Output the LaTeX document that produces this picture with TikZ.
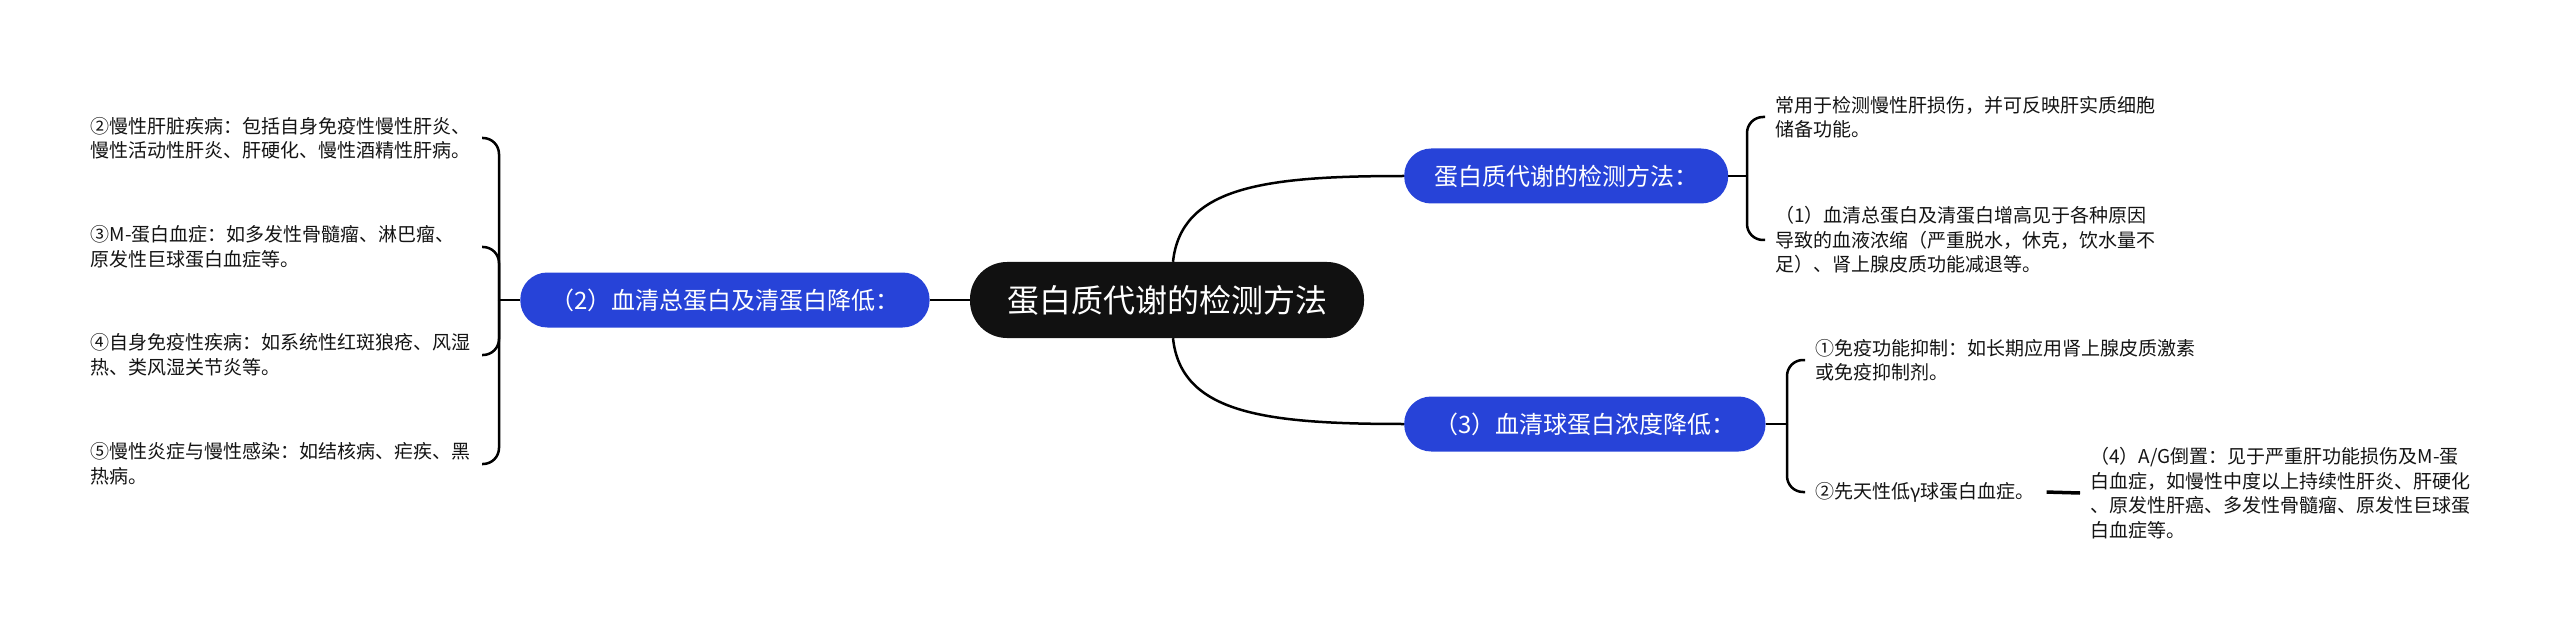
\documentclass[tikz,border=0pt]{standalone}
\usepackage{fontspec}
\setmainfont{Noto Sans CJK SC}
\usepackage{tikz}
\usetikzlibrary{positioning}
\definecolor{topicblack}{HTML}{111111}
\definecolor{topicblue}{HTML}{2743D8}

\begin{document}
\begin{tikzpicture}[x=1pt,y=1pt,every node/.style={inner ysep=0pt},
	root/.style={fill=topicblack,text=white,rounded corners=37pt,minimum height=76pt,inner xsep=37pt,font=\fontsize{32}{38}\selectfont},
	branch/.style={fill=topicblue,text=white,rounded corners=27pt,minimum height=55pt,inner xsep=30pt,font=\fontsize{24}{28}\selectfont},
	leaf/.style={align=left,inner xsep=10pt,text=black!92,font=\fontsize{19}{24.5}\selectfont},
	link/.style={line width=2.5pt}]

					\useasboundingbox (0,0) rectangle (2560,-631);

					\node[root] (R0) at (1167,-300) {蛋白质代谢的检测方法};
					\node[branch, left=40pt of R0] (B2) {（2）血清总蛋白及清蛋白降低：};
					\node[branch, anchor=west] (B1) at (1404,-176) {蛋白质代谢的检测方法：};
					\node[branch, anchor=west] (B3) at (1404,-424) {（3）血清球蛋白浓度降低：};

					\node[leaf, anchor=west] (D1) at (1765,-117) {
						常用于检测慢性肝损伤，并可反映肝实质细胞\\
						储备功能。
					};
					\node[leaf, anchor=west] (D2) at (1765,-240) {
						（1）血清总蛋白及清蛋白增高见于各种原因\\
						导致的血液浓缩（严重脱水，休克，饮水量不\\
						足）、肾上腺皮质功能减退等。
					};
					\node[leaf, anchor=west] (D3) at (1805,-360) {
						①免疫功能抑制：如长期应用肾上腺皮质激素\\
						或免疫抑制剂。
					};
					\node[leaf, anchor=west] (D4) at (1805,-492) {②先天性低γ球蛋白血症。};
					\node[leaf, anchor=west] (D5) at (2080,-493) {
						（4）A/G倒置：见于严重肝功能损伤及M-蛋\\
						白血症，如慢性中度以上持续性肝炎、肝硬化\\
						、原发性肝癌、多发性骨髓瘤、原发性巨球蛋\\
						白血症等。
					};

					\node[leaf, anchor=east, text width=384pt, inner xsep=7pt] (E1) at (482,-138) {
						②慢性肝脏疾病：包括自身免疫性慢性肝炎、\\
						慢性活动性肝炎、肝硬化、慢性酒精性肝病。
					};
					\node[leaf, anchor=east, text width=384pt, inner xsep=7pt] (E2) at (482,-247) {
						③M-蛋白血症：如多发性骨髓瘤、淋巴瘤、\\
						原发性巨球蛋白血症等。
					};
					\node[leaf, anchor=east, text width=384pt, inner xsep=7pt] (E3) at (482,-355) {
						④自身免疫性疾病：如系统性红斑狼疮、风湿\\
						热、类风湿关节炎等。
					};
					\node[leaf, anchor=east, text width=384pt, inner xsep=7pt] (E4) at (482,-464) {
						⑤慢性炎症与慢性感染：如结核病、疟疾、黑\\
						热病。
					};

					\coordinate (S1) at (1747,-176);
					\coordinate (S2) at (499,-300);
					\coordinate (S3) at (1787,-424);

					\draw[link] (R0) -- (B2);
					\draw[link] ([xshift=6pt]R0.north) .. controls +(8,75) and +(-140,0) .. (B1.west);
					\draw[link] ([xshift=6pt]R0.south) .. controls +(8,-75) and +(-140,0) .. (B3.west);

					\draw[link] (B1) -- (S1);
					\draw[link, rounded corners=16pt] (S1) |- (D1.west);
					\draw[link, rounded corners=16pt] (S1) |- (D2.west);

					\draw[link] (B3) -- (S3);
					\draw[link, rounded corners=16pt] (S3) |- (D3.west);
					\draw[link, rounded corners=16pt] (S3) |- (D4.west);
					\draw[line width=3.5pt, shorten <=2pt] (D4.east) -- (D5.west);

					\draw[link] (B2) -- (S2);
					\foreach \e in {E1,E2,E3,E4}
						\draw[link, rounded corners=16pt] (S2) |- (\e.east);

					\end{tikzpicture}
\end{document}
